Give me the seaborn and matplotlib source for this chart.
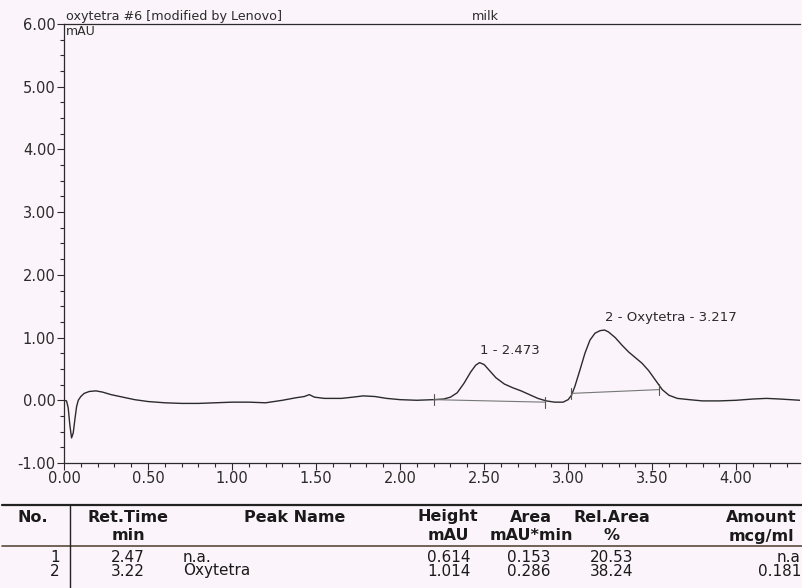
"""Chromatogram of oxytetra #6 (milk) with the peak report table."""
import matplotlib
matplotlib.use("Agg")
import matplotlib.pyplot as plt
from matplotlib.lines import Line2D
from matplotlib.ticker import MultipleLocator, FormatStrFormatter
import seaborn as sns
from pandas import DataFrame

# trace (min, mAU)
ret_time = [0.00, 0.015, 0.025, 0.035, 0.045, 0.055, 0.065, 0.075, 0.085, 0.10,
            0.12, 0.15, 0.19, 0.23, 0.28, 0.35, 0.42, 0.50, 0.60, 0.70,
            0.80, 0.90, 1.00, 1.10, 1.20, 1.30, 1.38, 1.43, 1.46, 1.49,
            1.55, 1.65, 1.72, 1.78, 1.85, 1.92, 2.00, 2.10, 2.20, 2.26,
            2.30, 2.34, 2.38, 2.42, 2.45, 2.473, 2.50, 2.53, 2.57, 2.62,
            2.67, 2.72, 2.77, 2.82, 2.87, 2.92, 2.97, 3.00, 3.02, 3.04,
            3.07, 3.10, 3.13, 3.16, 3.19, 3.217, 3.24, 3.28, 3.32, 3.36,
            3.40, 3.44, 3.48, 3.52, 3.56, 3.60, 3.65, 3.72, 3.80, 3.90,
            4.00, 4.10, 4.18, 4.26, 4.38]
signal = [0.00, -0.01, -0.12, -0.40, -0.60, -0.52, -0.30, -0.10, 0.00, 0.06,
          0.11, 0.14, 0.15, 0.13, 0.09, 0.05, 0.01, -0.02, -0.04, -0.05,
          -0.05, -0.04, -0.03, -0.03, -0.04, 0.00, 0.04, 0.06, 0.09, 0.05,
          0.03, 0.03, 0.05, 0.07, 0.06, 0.03, 0.01, 0.00, 0.01, 0.02,
          0.05, 0.12, 0.27, 0.45, 0.56, 0.60, 0.57, 0.48, 0.36, 0.26,
          0.20, 0.15, 0.09, 0.03, -0.01, -0.03, -0.03, 0.01, 0.08, 0.22,
          0.48, 0.75, 0.96, 1.07, 1.11, 1.12, 1.09, 1.00, 0.88, 0.77,
          0.68, 0.59, 0.47, 0.32, 0.17, 0.08, 0.03, 0.01, -0.01, -0.01,
          0.00, 0.02, 0.03, 0.02, 0.00]

# peak annotations and integration baselines
peak_labels = ["1 - 2.473", "2 - Oxytetra - 3.217"]
peak_apex_x = [2.473, 3.217]
peak_apex_y = [0.60, 1.12]
base_start_x = [2.20, 3.02]
base_start_y = [0.01, 0.11]
base_end_x = [2.86, 3.54]
base_end_y = [-0.03, 0.17]

# peak report table
peak_no = ["1", "2"]
ret_times = ["2.47", "3.22"]
peak_names = ["n.a.", "Oxytetra"]
heights = ["0.614", "1.014"]
areas = ["0.153", "0.286"]
rel_areas = ["20.53", "38.24"]
amounts = ["n.a", "0.181"]

sns.set_style("ticks")
plt.rcParams['font.family'] = ['DejaVu Sans']
ink = '#2b2b2b'
paper = '#fbf4fa'

fig = plt.figure(figsize=(8.03, 5.88), dpi=100, facecolor=paper)
ax = fig.add_axes([0.0797, 0.2126, 0.9166, 0.7466])
ax.set_facecolor(paper)

df = DataFrame({'time': ret_time, 'mAU': signal})
sns.lineplot(data=df, x='time', y='mAU', ax=ax, color=ink, linewidth=1.0,
             sort=False, estimator=None)

for i in range(len(peak_labels)):
    ax.plot([base_start_x[i], base_end_x[i]], [base_start_y[i], base_end_y[i]],
            color='#777777', linewidth=0.8)
    for bx, by in ((base_start_x[i], base_start_y[i]), (base_end_x[i], base_end_y[i])):
        ax.plot([bx, bx], [by - 0.09, by + 0.09], color='#555555', linewidth=0.8)
    ax.annotate(peak_labels[i], (peak_apex_x[i], peak_apex_y[i]),
                xytext=(0, 4), textcoords='offset points',
                ha='left', va='bottom', fontsize=9.5, color=ink)

ax.set_xlim(0, 4.38)
ax.set_ylim(-1, 6)
ax.xaxis.set_major_locator(MultipleLocator(0.5))
ax.xaxis.set_minor_locator(MultipleLocator(0.1))
ax.yaxis.set_major_locator(MultipleLocator(1.0))
ax.yaxis.set_minor_locator(MultipleLocator(0.25))
ax.xaxis.set_major_formatter(FormatStrFormatter('%.2f'))
ax.yaxis.set_major_formatter(FormatStrFormatter('%.2f'))
ax.tick_params(axis='both', which='major', length=5, width=0.8, colors=ink,
               labelsize=10.5, pad=1)
ax.tick_params(axis='both', which='minor', length=3, width=0.8, colors=ink)
ax.set_xlabel('')
ax.set_ylabel('')
for side in ('left', 'bottom', 'top'):
    ax.spines[side].set_color(ink)
    ax.spines[side].set_linewidth(0.9)
ax.spines['right'].set_visible(False)

ax.text(0.003, 0.997, 'mAU', transform=ax.transAxes, ha='left', va='top',
        fontsize=9, color=ink)
ax.text(0.003, 1.003, 'oxytetra #6 [modified by Lenovo]', transform=ax.transAxes,
        ha='left', va='bottom', fontsize=9.2, color=ink)
fig.text(485 / 803, 1 - 16 / 588, 'milk', ha='center', va='center',
         fontsize=9.2, color=ink)

# ---- table underneath ----
def fy(py):
    return 1 - py / 588


def fx(px):
    return px / 803


fig.add_artist(Line2D([fx(2), fx(803)], [fy(505), fy(505)], color='#222222', linewidth=1.6))
fig.add_artist(Line2D([fx(2), fx(803)], [fy(546), fy(546)], color='#5a4a3a', linewidth=1.2))
fig.add_artist(Line2D([fx(70), fx(70)], [fy(505), fy(588)], color='#222222', linewidth=1.0))

header_top = ["No.", "Ret.Time", "Peak Name", "Height", "Area", "Rel.Area", "Amount"]
header_bot = ["", "min", "", "mAU", "mAU*min", "%", "mcg/ml"]
header_x = [33, 128, 295, 448, 531, 612, 761]
for label, unit, px in zip(header_top, header_bot, header_x):
    fig.text(fx(px), fy(517), label, ha='center', va='center', fontsize=11.5,
             fontweight='bold', color='#1a1a1a')
    if unit:
        fig.text(fx(px), fy(536), unit, ha='center', va='center', fontsize=11.5,
                 fontweight='bold', color='#1a1a1a')

row_y = [557, 571]
for i in range(len(peak_no)):
    y = fy(row_y[i])
    fig.text(fx(60), y, peak_no[i], ha='right', va='center', fontsize=11, color='#1a1a1a')
    fig.text(fx(128), y, ret_times[i], ha='center', va='center', fontsize=11, color='#1a1a1a')
    fig.text(fx(183), y, peak_names[i], ha='left', va='center', fontsize=11, color='#1a1a1a')
    fig.text(fx(471), y, heights[i], ha='right', va='center', fontsize=11, color='#1a1a1a')
    fig.text(fx(551), y, areas[i], ha='right', va='center', fontsize=11, color='#1a1a1a')
    fig.text(fx(612), y, rel_areas[i], ha='center', va='center', fontsize=11, color='#1a1a1a')
    fig.text(fx(801), y, amounts[i], ha='right', va='center', fontsize=11, color='#1a1a1a')

fig.savefig('out.png', dpi=100, facecolor=paper)
